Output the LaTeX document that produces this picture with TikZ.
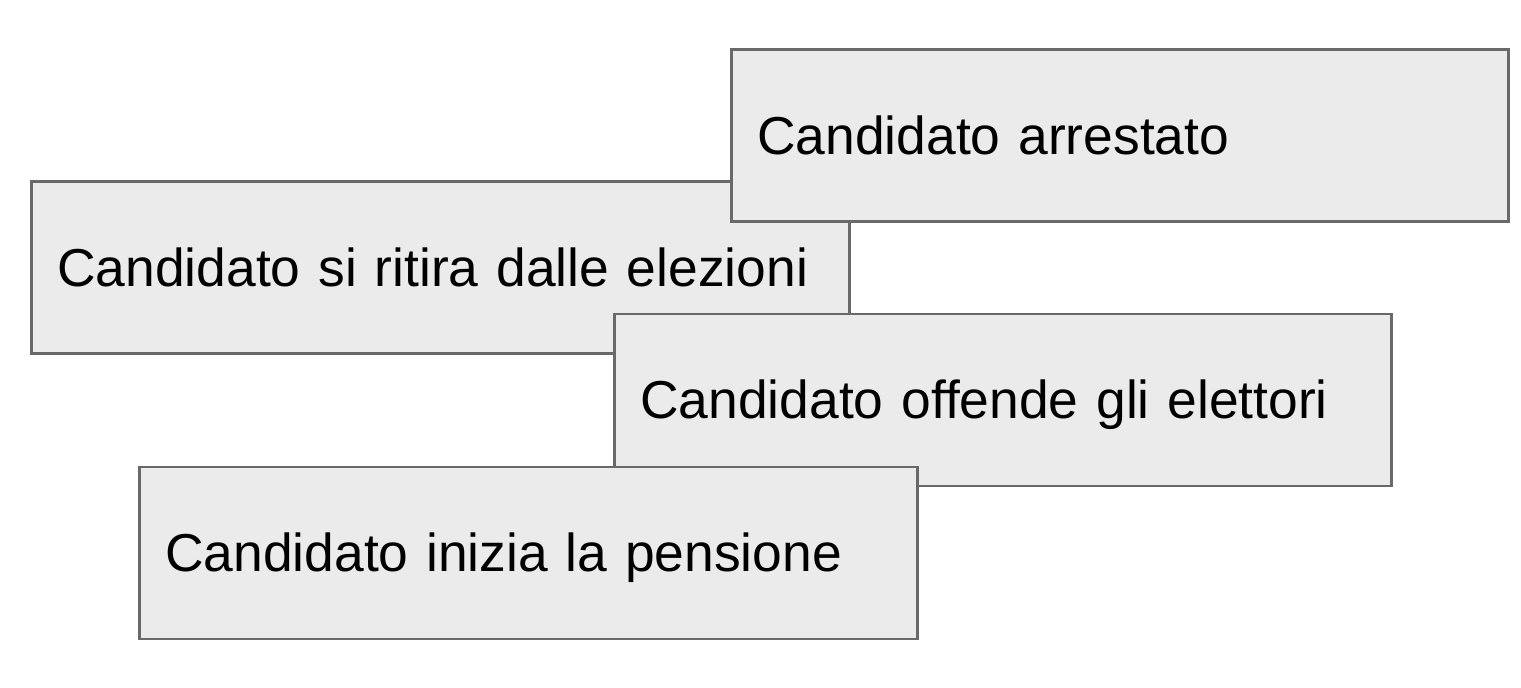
\documentclass[tikz,border=0pt]{standalone}
\usepackage{fontspec}
\setmainfont{Liberation Sans}
\definecolor{boxfill}{HTML}{EBEBEB}
\definecolor{boxline}{HTML}{696969}
\tikzset{
  evbox/.style={draw=boxline, fill=boxfill, line width=2.5pt, rectangle,
    anchor=north west, minimum height=172pt,
    text width=#1-52pt, inner xsep=26pt, inner ysep=0pt, align=left,
    text height=38pt, text depth=0pt,
    font=\fontsize{53.4}{60}\selectfont, text=black},
  evbox/.default=777pt
}
\begin{document}
\begin{tikzpicture}[x=1pt,y=-1pt]
\useasboundingbox[fill=white] (0,0) rectangle (1521,688);
\node[evbox=818pt] (ritira) at (30,180) {Candidato si ritira dalle elezioni};
\node[evbox] (arrestato) at (730,48) {Candidato arrestato};
\node[evbox] (offende) at (613,312.5) {Candidato offende gli elettori};
\node[evbox=778pt] (pensione) at (138,465.5) {Candidato inizia la pensione};
\end{tikzpicture}
\end{document}
